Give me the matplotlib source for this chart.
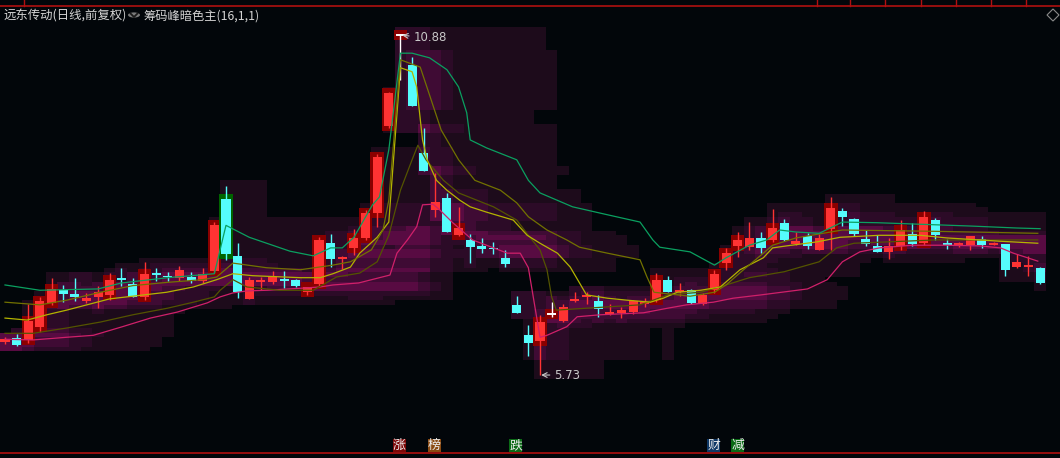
import numpy as np
import matplotlib.pyplot as plt
from matplotlib.patches import Rectangle, Circle, Polygon
from matplotlib.colors import ListedColormap
from matplotlib.lines import Line2D

plt.rcParams['font.family'] = ['Noto Sans CJK SC', 'DejaVu Sans']

# daily candles (price)
opens = [6.23, 6.29, 6.26, 6.46, 6.82, 7.01, 6.95, 6.85, 6.91, 6.94,
         7.18, 7.10, 6.91, 7.26, 7.23, 7.20, 7.21, 7.15, 7.30, 8.39,
         7.53, 6.88, 7.14, 7.14, 7.17, 7.17, 6.98, 7.11, 7.72, 7.48,
         7.65, 7.80, 8.18, 9.49, 10.86, 10.41, 9.08, 8.22, 8.40, 7.84,
         7.77, 7.68, 7.65, 7.50, 6.79, 6.33, 6.24, 6.65, 6.55, 6.85,
         6.91, 6.85, 6.65, 6.67, 6.68, 6.82, 6.86, 7.17, 6.98, 7.01,
         6.80, 7.01, 7.42, 7.68, 7.66, 7.80, 7.77, 8.02, 7.71, 7.83,
         7.62, 7.93, 8.21, 8.09, 7.78, 7.68, 7.59, 7.68, 7.86, 7.72,
         8.07, 7.72, 7.71, 7.69, 7.78, 7.71, 7.71, 7.36, 7.36, 7.35]
highs = [6.30, 6.35, 6.80, 6.91, 7.20, 7.09, 7.20, 6.97, 7.07, 7.27,
         7.35, 7.20, 7.44, 7.35, 7.29, 7.38, 7.29, 7.35, 8.04, 8.58,
         7.72, 7.21, 7.21, 7.30, 7.30, 7.18, 7.06, 7.82, 7.86, 7.53,
         7.93, 8.22, 9.07, 10.00, 10.88, 10.53, 9.46, 8.78, 8.48, 8.27,
         7.86, 7.80, 7.74, 7.62, 6.92, 6.49, 6.64, 6.83, 6.80, 6.98,
         6.98, 6.94, 6.80, 6.76, 6.86, 6.89, 7.27, 7.23, 7.12, 7.03,
         6.97, 7.32, 7.65, 7.89, 8.04, 7.89, 8.24, 8.09, 7.89, 7.87,
         7.86, 8.42, 8.25, 8.10, 7.92, 7.84, 7.80, 8.07, 8.03, 8.21,
         8.10, 7.78, 7.74, 7.83, 7.83, 7.74, 7.71, 7.56, 7.53, 7.36]
lows = [6.20, 6.17, 6.21, 6.38, 6.79, 6.83, 6.85, 6.82, 6.74, 6.86,
        7.07, 6.91, 6.86, 7.15, 7.15, 7.15, 7.12, 7.12, 7.27, 7.47,
        6.89, 6.88, 7.01, 7.10, 7.04, 7.06, 6.94, 7.08, 7.36, 7.33,
        7.54, 7.77, 7.97, 9.46, 10.19, 9.79, 8.81, 8.12, 7.89, 7.83,
        7.42, 7.57, 7.56, 7.36, 6.67, 6.02, 5.73, 6.61, 6.53, 6.83,
        6.80, 6.61, 6.64, 6.59, 6.65, 6.76, 6.83, 6.98, 6.92, 6.80,
        6.79, 6.97, 7.32, 7.51, 7.62, 7.57, 7.74, 7.75, 7.69, 7.63,
        7.62, 7.62, 7.98, 7.83, 7.68, 7.59, 7.48, 7.62, 7.68, 7.69,
        7.77, 7.63, 7.66, 7.62, 7.65, 7.69, 7.23, 7.35, 7.23, 7.10]
closes = [6.27, 6.18, 6.55, 6.85, 7.03, 6.95, 6.91, 6.89, 6.98, 7.17,
          7.17, 6.91, 7.26, 7.24, 7.21, 7.32, 7.15, 7.26, 7.99, 7.56,
          6.98, 7.17, 7.17, 7.23, 7.15, 7.08, 7.06, 7.77, 7.48, 7.51,
          7.80, 8.18, 9.02, 9.99, 10.86, 9.79, 8.81, 8.34, 7.89, 7.95,
          7.66, 7.63, 7.63, 7.41, 6.67, 6.21, 6.53, 6.65, 6.76, 6.88,
          6.94, 6.73, 6.68, 6.71, 6.85, 6.83, 7.17, 6.98, 7.01, 6.82,
          6.94, 7.26, 7.57, 7.77, 7.80, 7.65, 7.95, 7.77, 7.75, 7.68,
          7.80, 8.25, 8.12, 7.86, 7.71, 7.59, 7.68, 7.92, 7.71, 8.12,
          7.84, 7.71, 7.72, 7.83, 7.69, 7.72, 7.32, 7.44, 7.38, 7.12]

red_boxes = [2, 3, 4, 9, 12, 18, 26, 27, 30, 31, 32, 33, 34, 39, 46, 47,
             56, 61, 62, 63, 66, 71, 77, 79]
green_boxes = [19]

# cost lines (day index, price)
green_x = [0, 3, 8, 10, 14, 18, 19, 21, 24.5, 26.5, 28, 29, 30, 31.6, 32.2,
           33, 34, 35, 36.5, 38, 39, 39.7, 40, 41.4, 44, 45, 46, 48.8, 51.8,
           54.6, 55.7, 56.3, 58.9, 61, 62, 64, 65.5, 66.6, 68, 70, 72, 75,
           83, 87, 89]
green_y = [7.09, 7.01, 7.03, 7.12, 7.20, 7.26, 7.99, 7.81, 7.60, 7.53, 7.65,
           7.65, 7.81, 8.30, 8.42, 9.13, 10.59, 10.59, 10.52, 10.34, 10.08,
           9.69, 9.28, 9.16, 8.98, 8.67, 8.48, 8.27, 8.15, 8.04, 7.77, 7.66,
           7.59, 7.39, 7.50, 7.69, 7.77, 7.92, 7.89, 7.87, 8.04, 8.03, 7.98,
           7.95, 7.94]
olive1_x = [0, 3, 5.3, 8.2, 11, 14, 17, 18.2, 19.6, 22.5, 25.4, 28.2, 29.7,
            31.5, 32.5, 33, 34, 35.7, 36.5, 37.5, 39, 40.4, 42.6, 44, 45,
            46.6, 48.3, 49.4, 51.8, 54.6, 55.2, 55.8, 58.9, 61, 62, 63.5, 65,
            66, 68, 72, 80, 88.8]
olive1_y = [6.83, 6.79, 6.86, 6.98, 7.08, 7.13, 7.17, 7.21, 7.42, 7.35, 7.32,
            7.39, 7.44, 7.62, 7.92, 8.37, 10.49, 10.38, 9.96, 9.43, 8.98,
            8.67, 8.52, 8.33, 8.12, 7.92, 7.77, 7.66, 7.57, 7.47, 7.21, 6.98,
            6.92, 6.98, 7.09, 7.32, 7.54, 7.69, 7.80, 7.92, 7.90, 7.87]
yellow_x = [0, 1.9, 3.6, 5.3, 9, 13.9, 16.2, 18.2, 19.6, 21.3, 25.4, 27.1,
            28.2, 29.7, 30.5, 32, 33, 34, 35, 35.4, 35.9, 36.3, 37.1, 38,
            39.1, 40, 41.4, 43.7, 44.9, 46, 47.5, 48.6, 49.4, 50, 51.8, 53.5,
            55.5, 56.6, 57.8, 59.8, 61.5, 63.2, 65.2, 66, 67.2, 69.8, 71.8,
            75.2, 78.7, 81, 85.6, 88.8]
yellow_y = [6.59, 6.56, 6.64, 6.71, 6.88, 6.98, 7.06, 7.17, 7.26, 7.23, 7.20,
            7.20, 7.26, 7.36, 7.57, 7.81, 8.04, 10.37, 10.31, 10.08, 9.28,
            8.98, 8.67, 8.52, 8.37, 8.27, 8.19, 8.07, 7.84, 7.72, 7.57, 7.36,
            7.12, 6.94, 6.89, 6.86, 6.83, 6.89, 6.98, 7.01, 7.06, 7.32, 7.50,
            7.65, 7.68, 7.74, 7.81, 7.84, 7.84, 7.80, 7.75, 7.72]
olive2_x = [0, 2.4, 5.3, 8.2, 11, 14, 16.2, 18, 18.5, 19.6, 20.8, 23.6, 26.5,
            28.5, 30.5, 32, 33, 34, 35, 35.5, 36.2, 37.7, 39, 42, 44, 45, 46,
            46.6, 47, 47.4, 54.6, 57, 59.8, 62, 64, 67, 70, 71.5, 73, 80, 88.8]
olive2_y = [6.36, 6.36, 6.44, 6.53, 6.64, 6.74, 6.83, 6.91, 7.01, 7.17, 7.06,
            7.01, 7.01, 7.21, 7.27, 7.44, 7.84, 8.52, 8.98, 9.20, 8.98, 8.67,
            8.48, 8.27, 8.07, 7.84, 7.62, 7.32, 6.91, 6.71, 6.79, 6.94, 6.98,
            7.09, 7.20, 7.29, 7.44, 7.65, 7.72, 7.77, 7.77]
pink_x = [0, 2.4, 5.3, 7.6, 10.1, 12.5, 14.8, 17.4, 18.5, 19.6, 20.8, 22.5,
          25.4, 27.1, 28.2, 30.4, 33.1, 33.7, 34.6, 35.4, 35.9, 36.8, 37.4,
          38.5, 40.2, 43.2, 44.3, 45, 46, 46.6, 48.3, 49.2, 51.2, 54.9, 57,
          58.6, 60.9, 62.6, 65, 69, 70.7, 72, 73.5, 75.2, 78, 81, 83.8, 85.6,
          86.7, 88.8]
pink_y = [6.27, 6.26, 6.30, 6.33, 6.46, 6.59, 6.68, 6.82, 6.91, 6.97, 7.00,
          7.01, 7.04, 7.06, 7.09, 7.12, 7.24, 7.57, 7.77, 7.97, 8.30, 8.31,
          8.22, 8.03, 7.77, 7.57, 7.57, 7.35, 6.30, 6.33, 6.46, 6.61, 6.64,
          6.67, 6.74, 6.79, 6.83, 6.89, 6.94, 7.03, 7.17, 7.44, 7.59, 7.65,
          7.69, 7.69, 7.68, 7.65, 7.57, 7.45]

high_text = "10.88"
low_text = "5.73"
stock_title = "远东传动(日线,前复权)"
ind_title = "筹码峰暗色主(16,1,1)"
tags = ["涨", "榜", "跌", "财", "减"]
tag_colors = ["#7c0808", "#8a4a12", "#0b6a16", "#0f3866", "#0b6a16"]

bg = "#02060a"
up_col = "#ff3333"
down_col = "#55fcfc"

W, H = 1060, 458
fig = plt.figure(figsize=(W / 100, H / 100), dpi=100, facecolor=bg)
ax = fig.add_axes([0, 23 / H, 1, 415 / H])
ax.set_facecolor(bg)
ax.set_xlim(-0.43, 90.71)
ax.set_ylim(4.8245, 11.091)
ax.axis("off")

o = np.array(opens)
h = np.array(highs)
l = np.array(lows)
c = np.array(closes)
n = len(o)

# chip cloud: recent daily ranges stacked per column
win = 13
edges_p = np.arange(4.9, 11.12, 0.07)
mid_p = (edges_p[:-1] + edges_p[1:]) / 2
dens = np.zeros((len(mid_p), n))
for i in range(n):
    for j in range(max(0, i - win + 1), i + 1):
        inside = (mid_p >= l[j] - 0.08) & (mid_p <= h[j] + 0.08)
        k = inside.sum()
        if k:
            dens[inside, i] += np.exp(-(i - j) / 8) / np.sqrt(k)
    m = dens[:, i].max()
    if m > 0:
        dens[:, i] /= m
levels = np.digitize(dens, [0.06, 0.33, 0.58, 0.84])
cmap = ListedColormap([bg, "#1d0b1b", "#2c0b27", "#3f0b34", "#580b42"])
ax.pcolormesh(np.arange(n + 1) - 0.5, edges_p, levels, cmap=cmap,
              vmin=-0.5, vmax=4.5, shading="flat", zorder=0)

# highlight boxes
for i in red_boxes + green_boxes:
    col = "#8a0000" if i in red_boxes else "#006400"
    lo = min(o[i], c[i]) - 0.075
    hi = max(o[i], c[i]) + 0.075
    ax.add_patch(Rectangle((i - 0.58, lo), 1.16, hi - lo, facecolor=col,
                           edgecolor="none", zorder=1))

# candles
for i in range(n):
    if c[i] > o[i]:
        col = up_col
    elif c[i] < o[i]:
        col = down_col
    else:
        col = "white"
    ax.vlines(i, l[i], h[i], color=col, lw=1.0, zorder=3)
    if abs(c[i] - o[i]) < 0.02:
        ax.hlines((o[i] + c[i]) / 2, i - 0.39, i + 0.39, color=col, lw=1.4, zorder=4)
    else:
        ax.add_patch(Rectangle((i - 0.39, min(o[i], c[i])), 0.78, abs(c[i] - o[i]),
                               facecolor=col, edgecolor="none", zorder=4))

# cost lines
ax.plot(pink_x, pink_y, color="#d0206a", lw=0.9, zorder=5)
ax.plot(olive2_x, olive2_y, color="#545400", lw=0.9, zorder=5)
ax.plot(yellow_x, yellow_y, color="#b4b400", lw=0.9, zorder=5)
ax.plot(olive1_x, olive1_y, color="#727200", lw=0.9, zorder=5)
ax.plot(green_x, green_y, color="#0aa060", lw=0.9, zorder=5)

# high / low marks
imax = int(np.argmax(h))
imin = int(np.argmin(l))
ax.annotate(high_text, xy=(imax + 0.15, h[imax] - 0.02), xytext=(imax + 1.1, h[imax] - 0.06),
            color="#c8c8c8", fontsize=8.5, va="center", ha="left", family="DejaVu Sans",
            arrowprops=dict(arrowstyle="->", color="#c8c8c8", lw=0.8,
                            shrinkA=1, shrinkB=0), zorder=6)
ax.annotate(low_text, xy=(imin + 0.1, l[imin]), xytext=(imin + 1.2, l[imin]),
            color="#c8c8c8", fontsize=8.5, va="center", ha="left", family="DejaVu Sans",
            arrowprops=dict(arrowstyle="->", color="#c8c8c8", lw=0.8,
                            shrinkA=1, shrinkB=0), zorder=6)

# header strip
fig.add_artist(Line2D([0, 1], [1 - 5.5 / H] * 2, color="#b01010", lw=1.2))
for xs in [24, 817, 850, 885, 921, 956, 991, 1026]:
    fig.add_artist(Line2D([xs / W] * 2, [1, 1 - 5.5 / H], color="#b01010", lw=1.0))
fig.text(3 / W, 1 - 16 / H, stock_title, color="#d4d4d4", fontsize=8.9, va="center", ha="left")
fig.add_artist(Circle((134 / W, 1 - 15 / H), 6 / W, transform=fig.transFigure,
                      facecolor="#7a7a7a", edgecolor="none"))
fig.add_artist(Line2D([130.5 / W, 134 / W, 137.5 / W], [1 - 13.5 / H, 1 - 17 / H, 1 - 13.5 / H],
                      color="#1a1a1a", lw=1.3))
fig.text(144 / W, 1 - 16 / H, ind_title, color="#d4d4d4", fontsize=8.8, va="center", ha="left")
fig.add_artist(Polygon([(1053 / W, 1 - 9 / H), (1059 / W, 1 - 15 / H),
                        (1053 / W, 1 - 21 / H), (1047 / W, 1 - 15 / H)], closed=True,
                       transform=fig.transFigure, facecolor="none", edgecolor="#8a8a8a", lw=0.8))

# bottom tags
fig.add_artist(Line2D([0, 1], [1 - 453 / H] * 2, color="#b01010", lw=1.2))
for txt, col, xc in zip(tags, tag_colors, [399.5, 434.5, 515.5, 713.5, 737.5]):
    fig.add_artist(Rectangle(((xc - 6.5) / W, 1 - 452 / H), 13 / W, 13 / H,
                             transform=fig.transFigure, facecolor=col, edgecolor="none"))
    fig.text(xc / W, 1 - 445.5 / H, txt, color="#ececec", fontsize=9.3, ha="center", va="center")

fig.savefig("out.png", dpi=100, facecolor=bg)
